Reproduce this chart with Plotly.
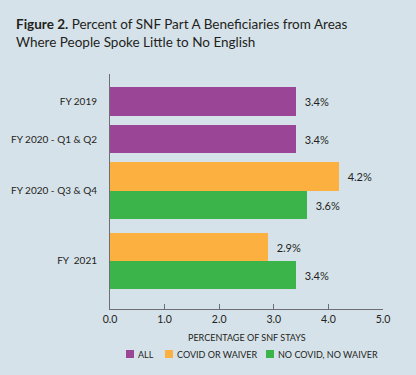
import plotly.graph_objects as go

# ---- data ----
categories = ["FY 2019", "FY 2020 - Q1 & Q2", "FY 2020 - Q3 & Q4", "FY  2021"]
series_names = ["ALL", "COVID OR WAIVER", "NO COVID, NO WAIVER"]
all_vals = [3.4, 3.4, None, None]
covid_vals = [None, None, 4.2, 2.9]
nocovid_vals = [None, None, 3.6, 3.4]
x_ticks = [0, 1, 2, 3, 4, 5]
x_title = "PERCENTAGE OF SNF STAYS"

# ---- layout constants ----
W, H = 416, 375
ML, MR, MT, MB = 110, 33, 74, 66
group_centers = [0.97, 2.3, 4.12, 6.6]   # in bar-thickness units
y_bottom = 8.3
colors = {"ALL": "#9b4596", "COVID OR WAIVER": "#fbb040", "NO COVID, NO WAIVER": "#3bb54a"}
legend_px = {"ALL": 126, "COVID OR WAIVER": 165, "NO COVID, NO WAIVER": 266}  # key left edge (px)
legend_y_px = 354
BG = "#d6e2ea"
INK = "#231f20"
AXIS = "#6d6e71"
FONT = "Lato"

PW, PH = W - ML - MR, H - MT - MB
def px_x(p):
    return (p - ML) / PW
def px_y(p):
    return (H - MB - p) / PH

def positions(vals, offset):
    ys, xs = [], []
    for c, v in zip(group_centers, vals):
        if v is not None:
            ys.append(c + offset)
            xs.append(v)
    return xs, ys

fig = go.Figure()
for name, vals, off in [("ALL", all_vals, 0.0),
                        ("COVID OR WAIVER", covid_vals, -0.5),
                        ("NO COVID, NO WAIVER", nocovid_vals, 0.5)]:
    xs, ys = positions(vals, off)
    fig.add_trace(go.Bar(
        x=xs, y=ys, orientation="h", name=name, width=1.0,
        marker=dict(color=colors[name], line=dict(width=0)),
        texttemplate="  %{x:.1f}%", textposition="outside",
        textfont=dict(family=FONT, size=11, color=INK),
        cliponaxis=False, hoverinfo="skip", showlegend=False,
    ))

# legend keys (squares + labels)
shapes, annots = [], []
for name in series_names:
    x0 = legend_px[name]
    shapes.append(dict(
        type="rect", xref="paper", yref="paper",
        x0=px_x(x0), x1=px_x(x0 + 8), y0=px_y(legend_y_px + 4), y1=px_y(legend_y_px - 4),
        fillcolor=colors[name], line=dict(width=0),
    ))
    annots.append(dict(
        text=name, xref="paper", yref="paper", x=px_x(x0 + 10), y=px_y(legend_y_px),
        xanchor="left", yanchor="middle", showarrow=False,
        font=dict(family=FONT, size=9, color=INK),
    ))
# x axis title
annots.append(dict(
    text=x_title, xref="paper", yref="paper", x=0.5, y=px_y(337),
    xanchor="center", yanchor="middle", showarrow=False,
    font=dict(family=FONT, size=9, color=INK),
))

fig.update_layout(
    width=W, height=H,
    paper_bgcolor=BG, plot_bgcolor=BG,
    margin=dict(l=ML, r=MR, t=MT, b=MB, autoexpand=False),
    title=dict(
        text="<b>Figure 2.</b> Percent of SNF Part A Beneficiaries from Areas<br>Where People Spoke Little to No English",
        x=16 / W, xanchor="left", y=1 - 29 / H, yanchor="top",
        font=dict(family=FONT, size=13.5, color=INK),
    ),
    showlegend=False,
    shapes=shapes, annotations=annots,
    bargap=0,
)
fig.update_xaxes(
    range=[0, 5], tickvals=x_ticks, tickformat=".1f",
    showgrid=False, zeroline=False,
    showline=True, linecolor=AXIS, linewidth=1,
    ticks="inside", ticklen=5, tickcolor=AXIS,
    tickfont=dict(family=FONT, size=10.5, color=INK),
)
fig.update_yaxes(
    range=[y_bottom, 0], tickvals=group_centers, ticktext=categories,
    showgrid=False, zeroline=False,
    showline=True, linecolor=AXIS, linewidth=1, ticks="",
    tickfont=dict(family=FONT, size=10, color=INK),
    ticklabelstandoff=10,
)

fig.write_html("out.html", config={"displayModeBar": False},
               post_script="document.body.style.margin='0px';")
